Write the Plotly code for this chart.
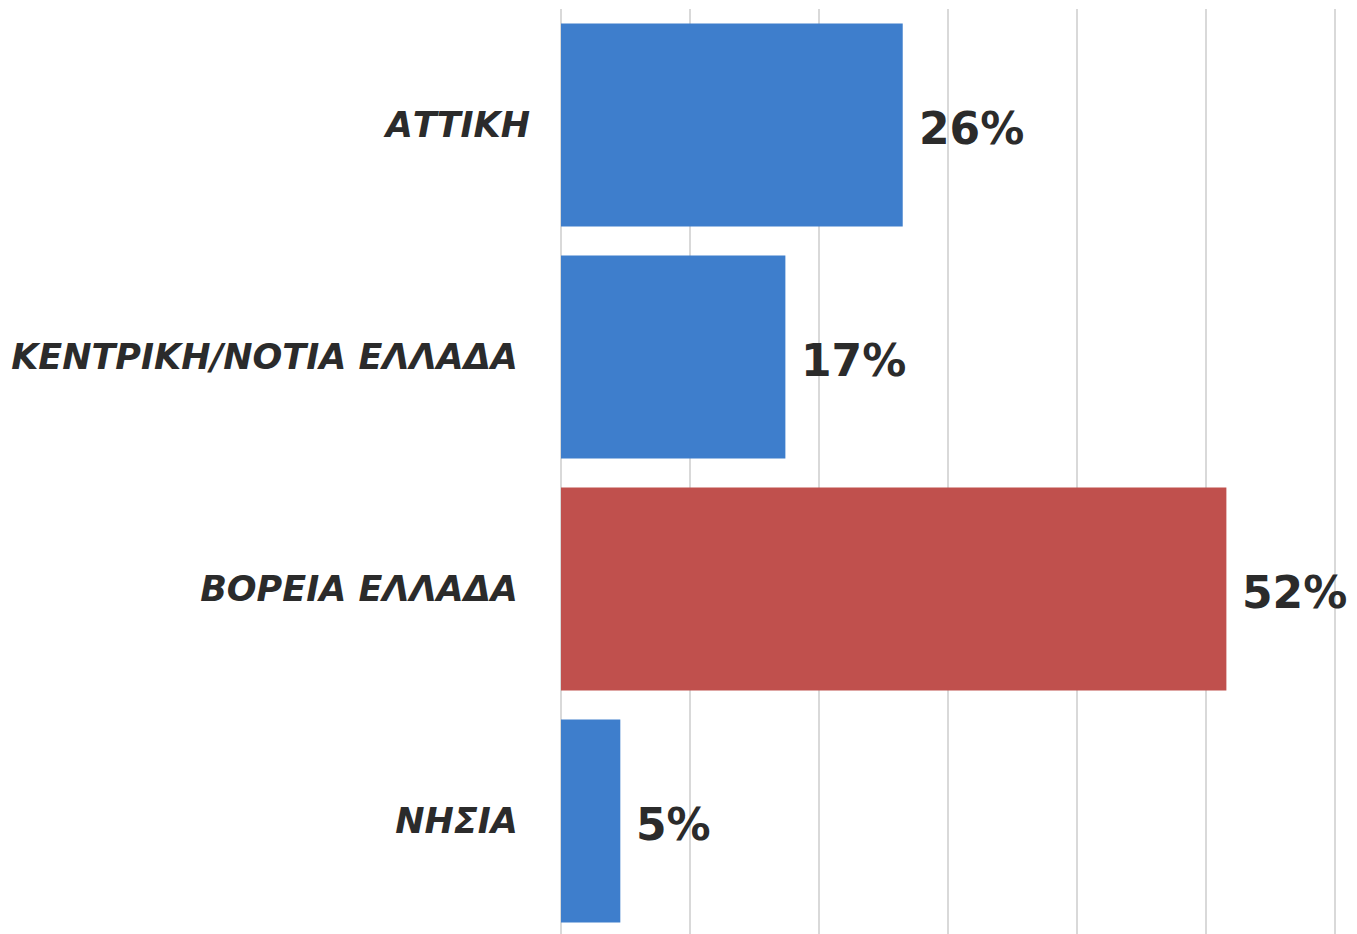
import plotly.graph_objects as go

categories = ["ΑΤΤΙΚΗ", "ΚΕΝΤΡΙΚΗ/ΝΟΤΙΑ ΕΛΛΑΔΑ", "ΒΟΡΕΙΑ ΕΛΛΑΔΑ", "ΝΗΣΙΑ"]
values = [26.5, 17.4, 51.6, 4.6]
value_labels = ["26%", "17%", "52%", "5%"]
tick_labels = ["ΑΤΤΙΚΗ", "ΚΕΝΤΡΙΚΗ/ΝΟΤΙΑ ΕΛΛΑΔΑ\u00a0", "ΒΟΡΕΙΑ ΕΛΛΑΔΑ\u00a0", "ΝΗΣΙΑ\u00a0"]
colors = ["#3E7ECC", "#3E7ECC", "#C0504D", "#3E7ECC"]

TEXT = "#2B2B2B"

fig = go.Figure(go.Bar(
    x=values, y=categories, orientation="h",
    marker=dict(color=colors, line=dict(width=0)),
    hoverinfo="skip",
))

for c, v, t in zip(categories, values, value_labels):
    fig.add_annotation(x=v, y=c, text=t, showarrow=False, xanchor="left",
                       yanchor="middle", xshift=14, yshift=-3,
                       font=dict(family="DejaVu Sans", size=44, color=TEXT, weight="bold"))

fig.update_layout(
    width=1349, height=934,
    margin=dict(l=553, r=21, t=1, b=5),
    paper_bgcolor="white", plot_bgcolor="white",
    bargap=0.126,
    showlegend=False,
    xaxis=dict(range=[0, 60.1], tickvals=[10, 20, 30, 40, 50, 60], showgrid=True,
               gridcolor="#D9D9D9", gridwidth=2, zeroline=True,
               zerolinecolor="#D9D9D9", zerolinewidth=2,
               showticklabels=False, ticks="", showline=False, fixedrange=True),
    yaxis=dict(categoryorder="array", categoryarray=categories, autorange="reversed",
               tickmode="array", tickvals=categories, ticktext=tick_labels,
               ticks="", showgrid=False, zeroline=False, showline=False,
               ticklabelstandoff=30,
               tickfont=dict(family="DejaVu Sans", size=35, color=TEXT,
                             weight="bold", style="italic")),
)

fig.write_html("out.html")
